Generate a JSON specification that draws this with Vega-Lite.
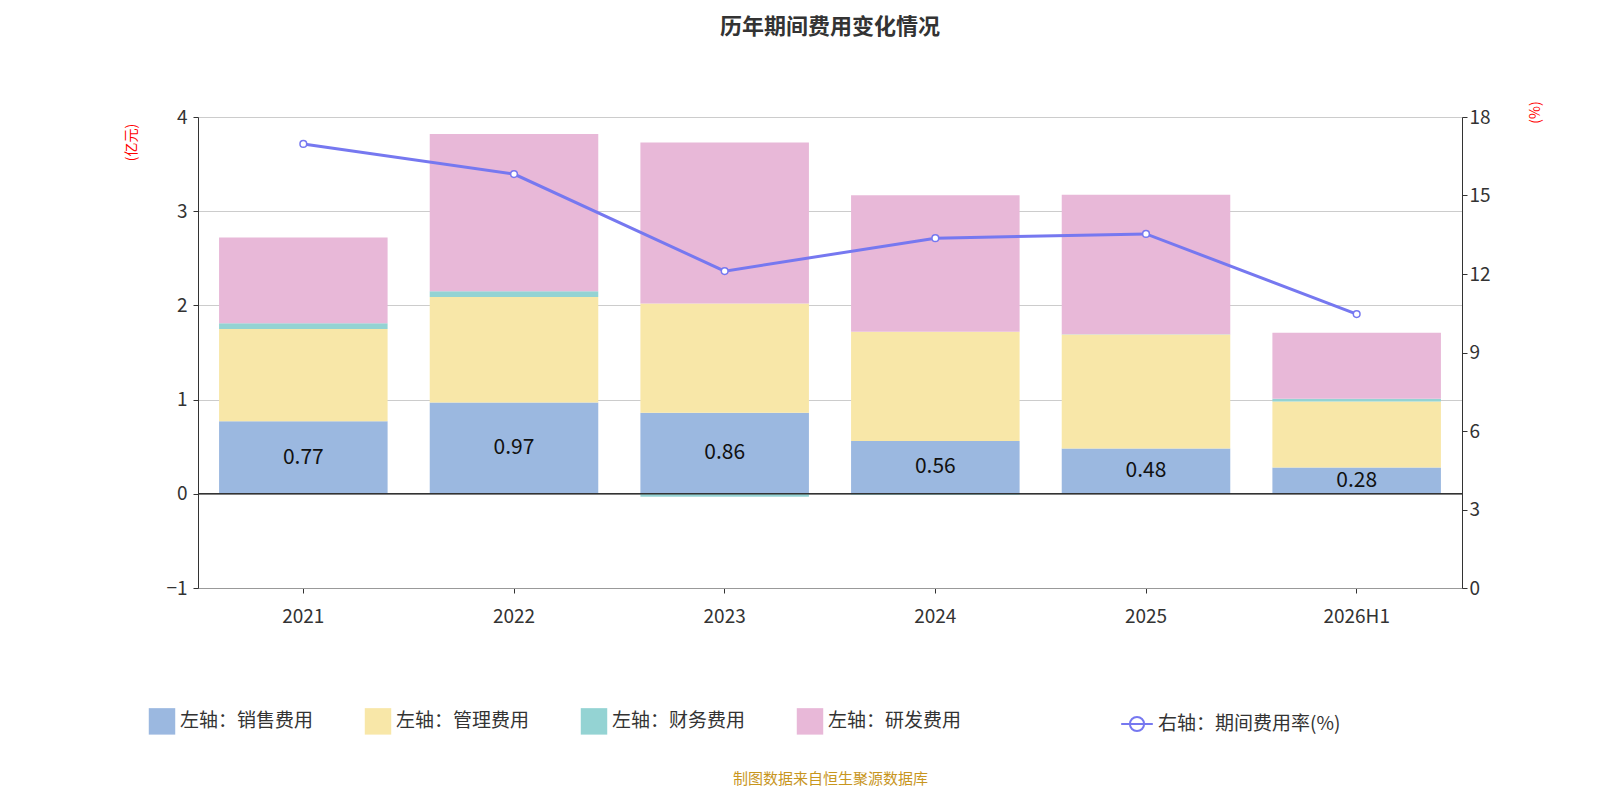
{
"$schema":"https://vega.github.io/schema/vega-lite/v6.json",
"width":1264,"height":471,
"autosize":{"type":"none"},
"padding":{"left":198,"top":117,"right":138,"bottom":212},
"background":"white",
"config":{"font":"Noto Sans CJK SC","view":{"stroke":null}},
"title":{"text":"历年期间费用变化情况","fontSize":22,"fontWeight":"bold","color":"#333","offset":62,"font":"Noto Sans CJK SC"},
"datasets":{
"bars":[
{"year":"2021","type":"左轴：销售费用","o":1,"v":0.77},
{"year":"2021","type":"左轴：管理费用","o":2,"v":0.98},
{"year":"2021","type":"左轴：财务费用","o":3,"v":0.06},
{"year":"2021","type":"左轴：研发费用","o":4,"v":0.91},
{"year":"2022","type":"左轴：销售费用","o":1,"v":0.97},
{"year":"2022","type":"左轴：管理费用","o":2,"v":1.12},
{"year":"2022","type":"左轴：财务费用","o":3,"v":0.06},
{"year":"2022","type":"左轴：研发费用","o":4,"v":1.67},
{"year":"2023","type":"左轴：销售费用","o":1,"v":0.86},
{"year":"2023","type":"左轴：管理费用","o":2,"v":1.16},
{"year":"2023","type":"左轴：财务费用","o":3,"v":-0.03},
{"year":"2023","type":"左轴：研发费用","o":4,"v":1.71},
{"year":"2024","type":"左轴：销售费用","o":1,"v":0.56},
{"year":"2024","type":"左轴：管理费用","o":2,"v":1.16},
{"year":"2024","type":"左轴：财务费用","o":3,"v":-0.01},
{"year":"2024","type":"左轴：研发费用","o":4,"v":1.45},
{"year":"2025","type":"左轴：销售费用","o":1,"v":0.48},
{"year":"2025","type":"左轴：管理费用","o":2,"v":1.21},
{"year":"2025","type":"左轴：财务费用","o":3,"v":0.005},
{"year":"2025","type":"左轴：研发费用","o":4,"v":1.48},
{"year":"2026H1","type":"左轴：销售费用","o":1,"v":0.28},
{"year":"2026H1","type":"左轴：管理费用","o":2,"v":0.70},
{"year":"2026H1","type":"左轴：财务费用","o":3,"v":0.03},
{"year":"2026H1","type":"左轴：研发费用","o":4,"v":0.70}
],
"rate":[
{"year":"2021","r":16.97},{"year":"2022","r":15.82},{"year":"2023","r":12.11},
{"year":"2024","r":13.37},{"year":"2025","r":13.53},{"year":"2026H1","r":10.47}
]},
"encoding":{"x":{"field":"year","type":"nominal","sort":null,"scale":{"paddingInner":0.2,"paddingOuter":0.1},
"axis":{"labelAngle":0,"labelFontSize":19,"labelColor":"#333","labelPadding":14,"domainColor":"#999","tickColor":"#333","title":"制图数据来自恒生聚源数据库","titleColor":"#c8961e","titleFontSize":15,"titleFontWeight":"normal","titlePadding":145}}},
"layer":[
{"layer":[
{"data":{"name":"bars"},"mark":{"type":"bar"},
"encoding":{"y":{"field":"v","type":"quantitative","stack":"zero","scale":{"domain":[-1,4]},
"axis":{"title":"(亿元)","titleColor":"red","titleFontSize":14,"titleFontWeight":"normal","titleAngle":-90,"titleX":-60,"titleY":25,"values":[-1,0,1,2,3,4],"format":"~g","labelFontSize":19,"labelColor":"#333","domainColor":"#333","tickColor":"#333","gridColor":"#ccc","labelPadding":6}},
"color":{"field":"type","type":"nominal","sort":["左轴：销售费用","左轴：管理费用","左轴：财务费用","左轴：研发费用"],
"scale":{"domain":["左轴：销售费用","左轴：管理费用","左轴：财务费用","左轴：研发费用"],"range":["#9bb8e0","#f8e7a8","#94d3d3","#e8b8d8"]},
"legend":{"title":null,"orient":"none","legendX":-50,"legendY":590,"direction":"horizontal","symbolType":"square","symbolSize":700,"labelFontSize":19,"labelColor":"#333","columnPadding":50,"labelLimit":300}},
"order":{"field":"o","type":"quantitative"}}},
{"data":{"name":"bars"},"mark":{"type":"text","fontSize":21,"color":"#111"},
"encoding":{"y":{"field":"half","type":"quantitative"},"text":{"field":"v","type":"quantitative","format":".2f"}},
"transform":[{"filter":"datum.o==1"},{"calculate":"datum.v/2","as":"half"}]},
{"data":{"values":[{"z":0}]},"mark":{"type":"rule","color":"#333","strokeWidth":1.5},"encoding":{"y":{"field":"z","type":"quantitative"},"x":{"value":0},"x2":{"value":1264}}}
]},
{"data":{"name":"rate"},
"mark":{"type":"line","color":"#7678f0","strokeWidth":3,"point":{"filled":true,"fill":"white","stroke":"#7678f0","strokeWidth":1.5,"size":45}},
"encoding":{"y":{"field":"r","type":"quantitative","scale":{"domain":[0,18]},
"axis":{"orient":"right","title":"(%)","titleColor":"red","titleFontSize":14,"titleFontWeight":"normal","titleAngle":-90,"titleX":80,"titleY":-5,"values":[0,3,6,9,12,15,18],"grid":false,"labelFontSize":19,"labelColor":"#333","domainColor":"#333","tickColor":"#333"}},
"stroke":{"datum":"右轴：期间费用率(%)","type":"nominal","scale":{"range":["#7678f0"]},
"legend":{"title":null,"orient":"none","legendX":922,"legendY":590,"symbolType":"M-1,0L1,0M0.45,0A0.45,0.45 0 1,1 -0.45,0A0.45,0.45 0 1,1 0.45,0","symbolSize":1000,"symbolStrokeWidth":2,"labelFontSize":19,"labelColor":"#333","labelLimit":400}}}}
],
"resolve":{"scale":{"y":"independent"}}
}
